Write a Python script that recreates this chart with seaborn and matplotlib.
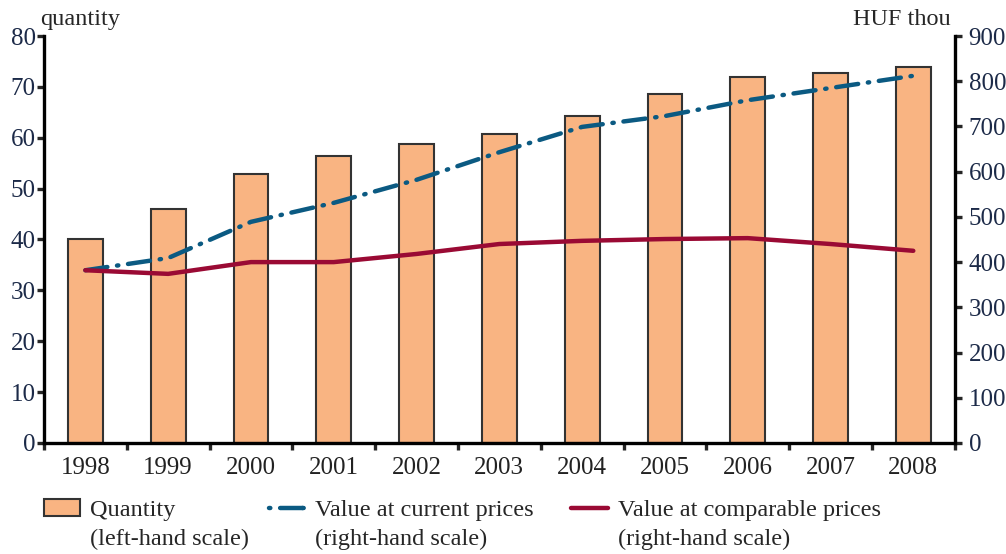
import matplotlib
matplotlib.use("Agg")
import matplotlib.pyplot as plt
from matplotlib.patches import Patch
from matplotlib.lines import Line2D
from matplotlib.ticker import FixedLocator
import numpy as np
import pandas as pd
import seaborn as sns

years = ["1998", "1999", "2000", "2001", "2002", "2003", "2004", "2005", "2006", "2007", "2008"]
quantity = [40.0, 46.0, 52.8, 56.5, 58.8, 60.8, 64.2, 68.6, 72.0, 72.8, 74.0]
current_prices = [382, 409, 489, 531, 582, 643, 699, 723, 758, 785, 812]
comparable_prices = [382, 374, 400, 400, 418, 440, 447, 451, 453, 440, 425]

bar_color = "#F9B482"
cur_color = "#0B5A82"
comp_color = "#9A0A34"

sns.set_style("white")
plt.rcParams["font.family"] = ["Liberation Serif", "DejaVu Serif"]

df = pd.DataFrame({"year": years, "quantity": quantity,
                   "pos": np.arange(len(years)),
                   "current": current_prices, "comparable": comparable_prices})

fig = plt.figure(figsize=(10.06, 5.54), dpi=100)
ax = fig.add_axes([0.0437, 0.2004, 0.9053, 0.7346])

sns.barplot(data=df, x="year", y="quantity", color=bar_color, width=0.42,
            edgecolor="#333333", linewidth=1.5, saturation=1, ax=ax)
ax.set_xlim(-0.5, len(years) - 0.5)
ax.set_ylim(0, 80)
ax.set_yticks(range(0, 81, 10))

ax2 = ax.twinx()
sns.lineplot(data=df, x="pos", y="current", color=cur_color, linewidth=3.2,
             ax=ax2)
ax2.lines[0].set_dashes((5, 2.2, 0.3, 2.2))
ax2.lines[0].set_dash_capstyle("round")
sns.lineplot(data=df, x="pos", y="comparable", color=comp_color, linewidth=3.2,
             ax=ax2)
ax2.set_ylim(0, 900)
ax2.set_yticks(range(0, 901, 100))
ax2.set_xlim(-0.5, len(years) - 0.5)

for a in (ax, ax2):
    a.set_xlabel("")
    a.set_ylabel("")
    for s in a.spines.values():
        s.set_visible(False)

ax.spines["left"].set_visible(True)
ax.spines["bottom"].set_visible(True)
ax2.spines["right"].set_visible(True)
for s in (ax.spines["left"], ax.spines["bottom"], ax2.spines["right"]):
    s.set_linewidth(2.4)
    s.set_color("black")

ax.tick_params(axis="y", direction="out", length=5, width=2.4, labelsize=18,
               labelcolor="#1c2a48", left=True, pad=1)
ax2.tick_params(axis="y", direction="out", length=5, width=2.4, labelsize=18,
                labelcolor="#1c2a48", right=True, pad=5)
ax.tick_params(axis="x", which="major", length=0, labelsize=18, pad=10,
               labelcolor="#222222")
ax.xaxis.set_minor_locator(FixedLocator(np.arange(-0.5, len(years), 1.0)))
ax.tick_params(axis="x", which="minor", direction="out", length=5, width=2.4,
               bottom=True)

fig.text(0.040, 0.945, "quantity", fontsize=17.5, ha="left", va="bottom")
fig.text(0.945, 0.945, "HUF thou", fontsize=17.5, ha="right", va="bottom")

items = [
    (Patch(facecolor=bar_color, edgecolor="#333333", linewidth=1.5),
     "Quantity", "(left-hand scale)", 0.0437),
    (Line2D([], [], color=cur_color, linewidth=3.2, dashes=(0.3, 2.2, 5, 0.01),
            dash_capstyle="round"),
     "Value at current prices", "(right-hand scale)", 0.267),
    (Line2D([], [], color=comp_color, linewidth=3.2),
     "Value at comparable prices", "(right-hand scale)", 0.568),
]
for handle, label, second, xpos in items:
    leg = fig.legend([handle], [label], loc="upper left",
                     bbox_to_anchor=(xpos, 0.099), frameon=False,
                     fontsize=17.5, handlelength=1.5, handletextpad=0.4,
                     borderaxespad=0, borderpad=0)
    fig.canvas.draw()
    txt = leg.get_texts()[0]
    bb = txt.get_window_extent().transformed(fig.transFigure.inverted())
    fig.text(bb.x0, bb.y0 - 0.052, second, fontsize=17.5, ha="left",
             va="bottom")

fig.savefig("out.png", dpi=100)
